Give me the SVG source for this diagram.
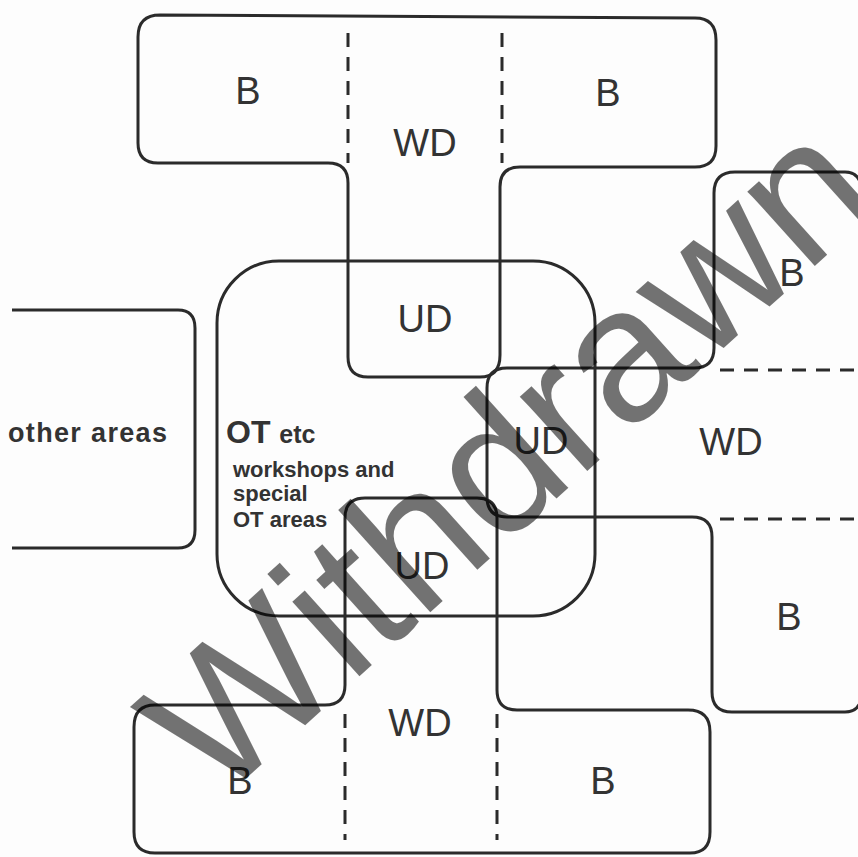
<svg xmlns="http://www.w3.org/2000/svg" width="858" height="857" viewBox="0 0 858 857">
<style>
.ln{fill:none;stroke:#2b2b2b;stroke-width:3;stroke-linejoin:round}
.ds{fill:none;stroke:#2b2b2b;stroke-width:3;stroke-dasharray:14 10}
.lb{font-family:"Liberation Sans",Arial,sans-serif;font-size:38px;fill:#333;text-anchor:middle}
.sm{font-family:"Liberation Sans",Arial,sans-serif;font-weight:bold;fill:#333}
.wm{font-family:"Liberation Sans",Arial,sans-serif;font-size:190px;fill:#000;fill-opacity:0.55;text-anchor:middle}
</style>
<rect width="858" height="857" fill="#fdfdfd"/>
<g id="connectors">
<path class="ds" d="M348 33V163M502 33V163"/>
<path class="ds" d="M720 370H858M720 519H858"/>
<path class="ds" d="M345 714V840M497 714V840"/>
</g>
<g id="top-T">
<path class="ln" d="M160 15L695 18Q716 18 716 40V146Q716 167 695 167H520Q500 167 500 187V355Q500 377 480 377H368Q348 377 348 357V183Q348 163 328 163H158Q138 163 138 143V37Q138 15 160 15Z"/>
<text class="lb" x="248" y="104">B</text>
<text class="lb" x="608" y="106">B</text>
<text class="lb" x="425" y="156">WD</text>
<text class="lb" x="425" y="332">UD</text>
</g>
<g id="right-T">
<path class="ln" d="M862 190Q860 172 845 172H735Q714 172 714 193V348Q714 368 694 368H507Q487 368 487 388V497Q487 517 507 517H692Q712 517 712 537V692Q712 712 732 712H845Q860 712 862 695"/>
<text class="lb" x="792" y="286">B</text>
<text class="lb" x="731" y="455">WD</text>
<text class="lb" x="541" y="454">UD</text>
<text class="lb" x="789" y="630">B</text>
</g>
<g id="bottom-T">
<path class="ln" d="M365 498H477Q497 498 497 518V690Q497 710 517 710H688Q710 710 710 732V832Q710 853 690 853H155Q134 853 134 832V727Q134 705 155 705H325Q345 705 345 685V518Q345 498 365 498Z"/>
<text class="lb" x="422" y="579">UD</text>
<text class="lb" x="420" y="736">WD</text>
<text class="lb" x="240" y="794">B</text>
<text class="lb" x="603" y="794">B</text>
</g>
<g id="ot-area">
<rect class="ln" x="217" y="261" width="378" height="355" rx="62" ry="62"/>
<text class="sm" x="226" y="443" font-size="32">OT <tspan font-size="25">etc</tspan></text>
<text class="sm" x="233" y="477" font-size="22">workshops and</text>
<text class="sm" x="233" y="501" font-size="22">special</text>
<text class="sm" x="233" y="527" font-size="22">OT areas</text>
</g>
<g id="other-areas">
<path class="ln" d="M12 310H178Q195 310 195 328V530Q195 548 178 548H12"/>
<text class="sm" x="8" y="442" font-size="27" textLength="159" lengthAdjust="spacing">other areas</text>
</g>
<g id="watermark">
<text class="wm" transform="translate(512 462) rotate(-42)" x="0" y="57">Withdrawn</text>
</g>
</svg>
